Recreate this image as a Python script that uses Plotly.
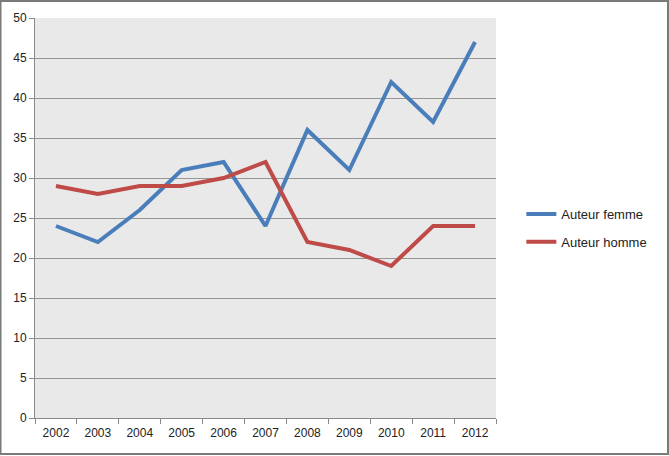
import plotly.graph_objects as go

years = ["2002", "2003", "2004", "2005", "2006", "2007", "2008", "2009", "2010", "2011", "2012"]
femme = [24, 22, 26, 31, 32, 24, 36, 31, 42, 37, 47]
homme = [29, 28, 29, 29, 30, 32, 22, 21, 19, 24, 24]

W, H = 669, 456
L, R, T, B = 35, 173, 18, 38
pw, ph = W - L - R, H - T - B

fig = go.Figure()
fig.add_trace(go.Scatter(x=years, y=femme, mode="lines", name="Auteur femme",
                         legendgroup="f",
                         line=dict(color="#4A7EBB", width=4)))
fig.add_trace(go.Scatter(x=years, y=homme, mode="lines", name="Auteur homme",
                         legendgroup="h",
                         line=dict(color="#BE4B48", width=4)))

fig.update_layout(
    width=W, height=H,
    margin=dict(l=L, r=R, t=T, b=B),
    paper_bgcolor="white",
    plot_bgcolor="#E9E9E9",
    font=dict(family="Liberation Sans", size=12, color="#222222"),
    showlegend=True,
    legend=dict(x=1.055, y=0.475, xanchor="left", yanchor="middle",
                bgcolor="rgba(0,0,0,0)", font=dict(size=13, color="#222"),
                tracegroupgap=8, itemwidth=30),
    xaxis=dict(type="category", tickson="boundaries", ticks="outside", ticklen=5,
               tickcolor="#888", showline=True, linecolor="#888", linewidth=1,
               showgrid=False, range=[-0.5, 10.5], ticklabelstandoff=4),
    yaxis=dict(range=[0, 50], dtick=5, ticks="outside", ticklen=5, tickcolor="#888",
               showline=True, linecolor="#888", linewidth=1,
               showgrid=True, gridcolor="#959595", gridwidth=1, zeroline=False),
    shapes=[dict(type="rect", xref="paper", yref="paper",
                 x0=-L / pw + 0.5 / pw, x1=(W - L - 1) / pw,
                 y0=-(B - 2) / ph, y1=(H - B - 1) / ph,
                 line=dict(color="#7A7A7A", width=2), fillcolor="rgba(0,0,0,0)", layer="below")],
)

fig.write_html("out.html")
